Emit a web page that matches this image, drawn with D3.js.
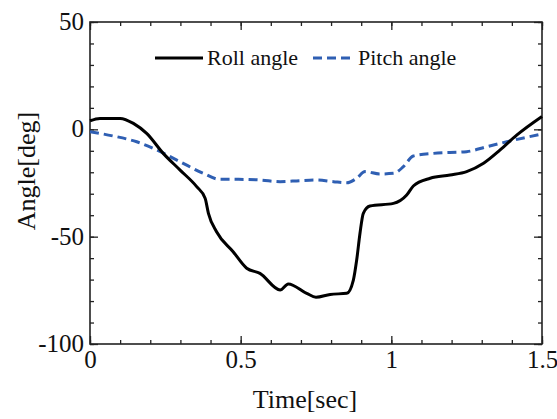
<!DOCTYPE html>
<html>
<head>
<meta charset="utf-8">
<script src="https://cdn.jsdelivr.net/npm/d3@7"></script>
<style>
body { margin: 0; background: #fff; }
text { font-family: "Liberation Serif", "Times New Roman", serif; fill: #111; }
</style>
</head>
<body>
<script>
// values
var rollT = [0, 0.033, 0.1, 0.144, 0.188, 0.243, 0.299, 0.354, 0.382, 0.393, 0.42, 0.475, 0.52, 0.564, 0.631, 0.658, 0.719, 0.75, 0.797, 0.852, 0.874, 0.885, 0.896, 0.907, 0.929, 1.007, 1.051, 1.073, 1.129, 1.195, 1.25, 1.306, 1.361, 1.416, 1.5];
var rollV = [4.0, 5.1, 5.1, 2.8, -1.9, -11.2, -19, -26.7, -32.1, -39.1, -47.7, -57, -64.7, -67.1, -74.8, -72, -76.4, -78.2, -76.9, -76.4, -70.2, -60.9, -48.4, -39.1, -35.7, -34.5, -30.6, -26.4, -22.8, -21.3, -19.7, -15.8, -9.6, -2.7, 6.0];
var pitchT = [0, 0.077, 0.155, 0.221, 0.299, 0.376, 0.431, 0.487, 0.564, 0.631, 0.697, 0.752, 0.808, 0.852, 0.885, 0.913, 0.962, 1.007, 1.04, 1.073, 1.14, 1.25, 1.317, 1.383, 1.449, 1.5];
var pitchV = [-1.1, -3.1, -5.8, -9.6, -15.1, -20.5, -23.3, -23.3, -23.6, -24.4, -23.9, -23.6, -24.4, -24.9, -22.8, -19.7, -20.8, -20.5, -17.4, -12.4, -11.2, -10.4, -8.1, -5.8, -3.7, -2.2];
var xMajor = [0, 0.5, 1, 1.5];
var xLabels = ["0", "0.5", "1", "1.5"];
var yMajor = [-100, -50, 0, 50];
var yLabels = ["-100", "-50", "0", "50"];
var seriesNames = ["Roll angle", "Pitch angle"];

var W = 557, H = 419;
var L = 90, R = 542, T = 22, B = 344;

var svg = d3.select("body").append("svg")
	.attr("width", W)
	.attr("height", H);

var x = d3.scaleLinear().domain([0, 1.5]).range([L, R]);
var y = d3.scaleLinear().domain([-100, 50]).range([B, T]);

var xMinor = d3.range(0, 1.51, 0.1).map(function (d) { return +d.toFixed(1); });
var yMinor = d3.range(-100, 51, 10);

function tickAxis(g, axis, tr) {
	var a = svg.append("g").attr("transform", tr).call(axis);
	a.select(".domain").remove();
	a.selectAll("line").attr("stroke", "#222").attr("stroke-width", 1.3);
	return a;
}

// minor + major ticks, pointing inward, all four sides
tickAxis(svg, d3.axisBottom(x).tickValues(xMinor).tickSize(-4).tickFormat(""), "translate(0," + B + ")");
tickAxis(svg, d3.axisTop(x).tickValues(xMinor).tickSize(-4).tickFormat(""), "translate(0," + T + ")");
tickAxis(svg, d3.axisLeft(y).tickValues(yMinor).tickSize(-4).tickFormat(""), "translate(" + L + ",0)");
tickAxis(svg, d3.axisRight(y).tickValues(yMinor).tickSize(-4).tickFormat(""), "translate(" + R + ",0)");
tickAxis(svg, d3.axisTop(x).tickValues(xMajor).tickSize(-8).tickFormat(""), "translate(0," + T + ")");
tickAxis(svg, d3.axisRight(y).tickValues(yMajor).tickSize(-8).tickFormat(""), "translate(" + R + ",0)");

var xa = tickAxis(svg, d3.axisBottom(x).tickValues(xMajor).tickSize(-8)
	.tickFormat(function (d, i) { return xLabels[i]; }), "translate(0," + B + ")");
xa.selectAll("text").attr("y", 6).attr("dy", "0.71em").style("font-size", "25px")
	.style("font-family", "Liberation Serif").attr("fill", "#111");

var ya = tickAxis(svg, d3.axisLeft(y).tickValues(yMajor).tickSize(-8)
	.tickFormat(function (d, i) { return yLabels[i]; }), "translate(" + L + ",0)");
ya.selectAll("text").attr("x", -6).attr("dy", "0.3em").style("font-size", "25px")
	.style("font-family", "Liberation Serif").attr("fill", "#111");

// frame
svg.append("rect")
	.attr("x", L).attr("y", T)
	.attr("width", R - L).attr("height", B - T)
	.attr("fill", "none")
	.attr("stroke", "#222")
	.attr("stroke-width", 1.6);

var line = d3.line()
	.x(function (d) { return x(d[0]); })
	.y(function (d) { return y(d[1]); })
	.curve(d3.curveMonotoneX);

var roll = rollT.map(function (t, i) { return [t, rollV[i]]; });
var pitch = pitchT.map(function (t, i) { return [t, pitchV[i]]; });

svg.append("path")
	.attr("d", line(pitch))
	.attr("fill", "none")
	.attr("stroke", "#2f5fb3")
	.attr("stroke-width", 3)
	.attr("stroke-dasharray", "9,5");

svg.append("path")
	.attr("d", line(roll))
	.attr("fill", "none")
	.attr("stroke", "#000")
	.attr("stroke-width", 3);

// legend
var ly = 58;
svg.append("line").attr("x1", 155).attr("x2", 203).attr("y1", ly).attr("y2", ly)
	.attr("stroke", "#000").attr("stroke-width", 3);
svg.append("text").attr("x", 207).attr("y", ly).attr("dy", "0.33em")
	.style("font-size", "22px").text(seriesNames[0]);
svg.append("line").attr("x1", 313).attr("x2", 354).attr("y1", ly).attr("y2", ly)
	.attr("stroke", "#2f5fb3").attr("stroke-width", 3).attr("stroke-dasharray", "9,5");
svg.append("text").attr("x", 358).attr("y", ly).attr("dy", "0.33em")
	.style("font-size", "22px").text(seriesNames[1]);

// axis titles
svg.append("text")
	.attr("x", 305).attr("y", 408)
	.attr("text-anchor", "middle")
	.style("font-size", "26px")
	.text("Time[sec]");

svg.append("text")
	.attr("transform", "translate(35,171) rotate(-90)")
	.attr("text-anchor", "middle")
	.style("font-size", "26px")
	.text("Angle[deg]");
</script>
</body>
</html>
